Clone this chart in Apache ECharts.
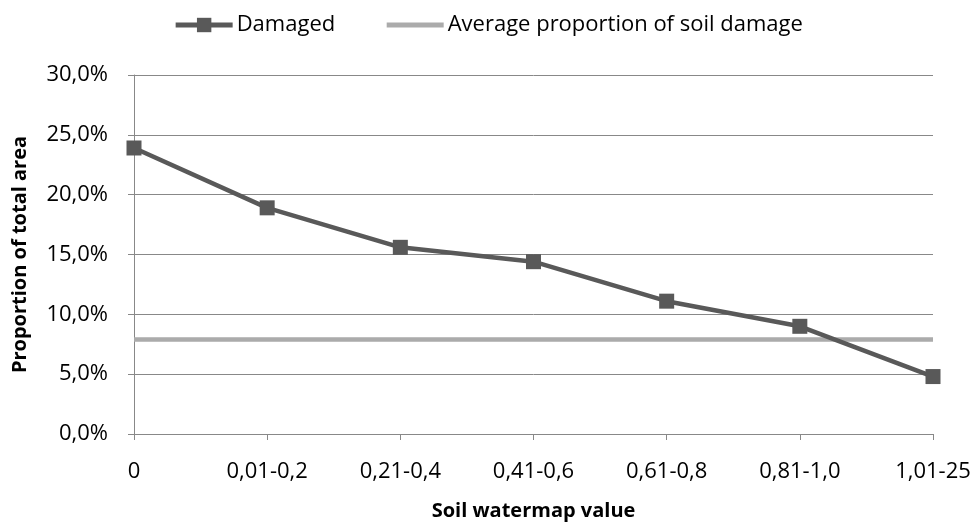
<!DOCTYPE html>
<html>
<head>
<meta charset="utf-8">
<script src="https://cdn.jsdelivr.net/npm/echarts@6/dist/echarts.min.js"></script>
<style>
  html, body { margin: 0; padding: 0; background: #fff; }
  #chart { width: 976px; height: 523px; }
</style>
</head>
<body>
<div id="chart"></div>
<script>
const categories = ["0", "0,01-0,2", "0,21-0,4", "0,41-0,6", "0,61-0,8", "0,81-1,0", "1,01-25"];
const damaged = [23.9, 18.9, 15.6, 14.4, 11.1, 9.0, 4.8];
const averageDamage = [7.9, 7.9, 7.9, 7.9, 7.9, 7.9, 7.9];

const font = "Open Sans";
const fmt = v => v.toFixed(1).replace(".", ",") + "%";

const chart = echarts.init(document.getElementById("chart"));
chart.setOption({
  animation: false,
  textStyle: { fontFamily: font, color: "#000" },
  legend: {
    top: 9,
    left: "center",
    itemWidth: 57,
    itemHeight: 18,
    itemGap: 49,
    lineStyle: { width: 5 },
    textStyle: { fontFamily: font, fontSize: 22, color: "#000", padding: [0, 0, 0, -1] },
    data: [
      { name: "Damaged" },
      {
        name: "Average proportion of soil damage",
        // marker hidden, only the legend line stays
        itemStyle: { color: "rgba(0,0,0,0)", borderWidth: 0 },
        lineStyle: { color: "#ababab", width: 5 }
      }
    ]
  },
  grid: { left: 134, right: 43, top: 75, bottom: 89, outerBoundsMode: "none" },
  xAxis: {
    type: "category",
    data: categories,
    boundaryGap: false,
    name: "Soil watermap value",
    nameLocation: "middle",
    nameGap: 67,
    nameTextStyle: { fontFamily: font, fontSize: 20, fontWeight: "bold", color: "#000" },
    axisLine: { lineStyle: { color: "#888", width: 1 } },
    axisTick: { show: true, alignWithLabel: true, length: 6, lineStyle: { color: "#888" } },
    axisLabel: { fontFamily: font, fontSize: 22, color: "#000", margin: 27 },
    splitLine: { show: false }
  },
  yAxis: {
    type: "value",
    min: 0,
    max: 30,
    interval: 5,
    name: "Proportion of total area",
    nameLocation: "middle",
    nameGap: 104,
    nameTextStyle: { fontFamily: font, fontSize: 20, fontWeight: "bold", color: "#000" },
    axisLine: { show: true, lineStyle: { color: "#888", width: 1 } },
    axisTick: { show: true, length: 6, lineStyle: { color: "#888" } },
    axisLabel: { fontFamily: font, fontSize: 22, color: "#000", margin: 26, formatter: fmt },
    splitLine: { lineStyle: { color: "#888", width: 1 } }
  },
  series: [
    {
      name: "Damaged",
      type: "line",
      data: damaged,
      symbol: "rect",
      symbolSize: 15,
      lineStyle: { color: "#595959", width: 4.5 },
      itemStyle: { color: "#595959" },
      z: 3
    },
    {
      name: "Average proportion of soil damage",
      type: "line",
      data: averageDamage,
      symbol: "rect",
      showSymbol: false,
      lineStyle: { color: "#ababab", width: 4.5 },
      itemStyle: { color: "#ababab" },
      z: 2
    }
  ]
});
</script>
</body>
</html>
